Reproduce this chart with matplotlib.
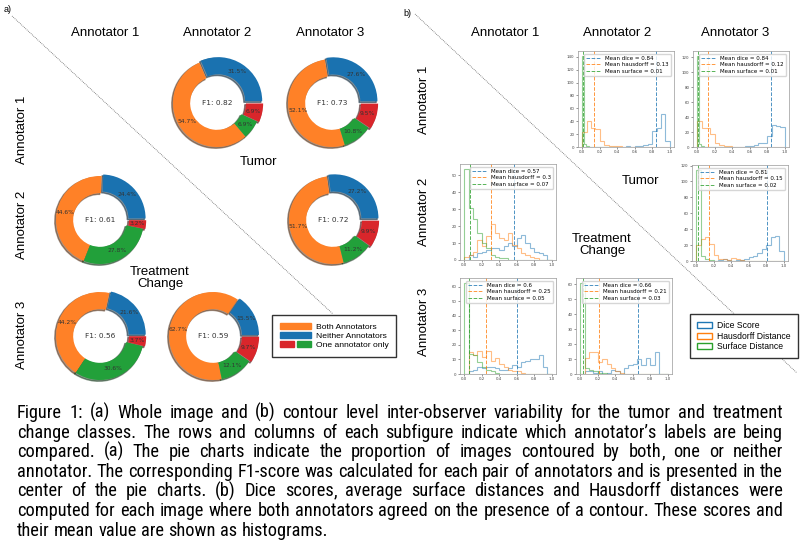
import matplotlib
matplotlib.use("Agg")
import matplotlib.pyplot as plt
import numpy as np
from matplotlib.patches import Patch
from matplotlib.lines import Line2D
from matplotlib.legend_handler import HandlerTuple
from matplotlib import font_manager
from matplotlib.ft2font import FT2Font

W, H = 800, 550

# ---------------- data ----------------
annotators = ["Annotator 1", "Annotator 2", "Annotator 3"]

# pie slices: neither, both, one (green), one (red)
pie_t12 = [31.5, 54.7, 6.9, 6.9]
pie_t13 = [27.6, 52.2, 10.8, 9.5]
pie_t23 = [27.2, 51.7, 11.2, 9.9]
pie_c12 = [24.4, 44.6, 27.8, 3.2]
pie_c13 = [21.6, 44.2, 30.6, 3.7]
pie_c23 = [15.5, 62.7, 12.1, 9.7]
f1_t12, f1_t13, f1_t23 = 0.82, 0.73, 0.72
f1_c12, f1_c13, f1_c23 = 0.61, 0.56, 0.59

# histogram counts (20 bins each); ranges per series
dice_range = (0.0, 1.0)
haus_range = (0.0, 1.0)

dice_t12 = [0, 0, 0, 0, 0, 0, 0, 0, 0, 0, 1, 0, 1, 2, 3, 5, 25, 30, 52, 10]
haus_t12 = [23, 40, 30, 28, 10, 3, 2, 1, 1, 0, 0, 0, 0, 0, 0, 0, 0, 0, 0, 0]
surf_t12 = [142, 4, 2, 1, 0, 0, 0, 0, 0, 0, 0, 0, 0, 0, 0, 0, 0, 0, 0, 0]
surf_range_t12 = (0.0, 0.4)
means_t12 = [0.84, 0.13, 0.01]

dice_t13 = [0, 0, 0, 0, 0, 0, 0, 0, 0, 0, 0, 1, 2, 3, 5, 5, 15, 30, 28, 27]
haus_t13 = [35, 26, 26, 18, 5, 3, 2, 1, 0, 0, 0, 0, 0, 0, 0, 0, 0, 0, 0, 0]
surf_t13 = [122, 4, 2, 1, 0, 0, 0, 0, 0, 0, 0, 0, 0, 0, 0, 0, 0, 0, 0, 0]
surf_range_t13 = (0.0, 0.4)
means_t13 = [0.84, 0.12, 0.01]

dice_t23 = [0, 0, 0, 0, 0, 1, 2, 1, 0, 1, 1, 2, 5, 6, 10, 15, 20, 30, 32, 12]
haus_t23 = [20, 28, 30, 22, 8, 3, 2, 1, 4, 3, 1, 0, 0, 0, 0, 0, 0, 0, 0, 0]
surf_t23 = [115, 6, 3, 1, 0, 0, 0, 0, 0, 0, 0, 0, 0, 0, 0, 0, 0, 0, 0, 0]
surf_range_t23 = (0.0, 1.0)
means_t23 = [0.81, 0.15, 0.02]

dice_c12 = [0, 3, 2, 4, 5, 6, 7, 7, 6, 8, 10, 8, 13, 15, 10, 7, 5, 4, 3, 0]
haus_c12 = [2, 3, 5, 12, 8, 14, 21, 16, 13, 12, 16, 9, 7, 4, 3, 2, 1, 0, 0, 0]
surf_c12 = [54, 31, 24, 16, 10, 7, 3, 2, 1, 1, 0, 0, 0, 0, 0, 0, 0, 0, 0, 0]
surf_range_c12 = (0.0, 1.0)
means_c12 = [0.57, 0.3, 0.07]

dice_c13 = [0, 2, 3, 5, 4, 5, 5, 4, 3, 3, 4, 6, 5, 8, 9, 10, 10, 13, 5, 0]
haus_c13 = [0, 15, 13, 16, 12, 16, 9, 11, 7, 5, 3, 2, 2, 1, 0, 0, 0, 0, 0, 0]
surf_c13 = [63, 14, 13, 8, 5, 3, 2, 1, 0, 0, 0, 0, 0, 0, 0, 0, 0, 0, 0, 0]
surf_range_c13 = (0.0, 1.0)
means_c13 = [0.6, 0.25, 0.05]

dice_c23 = [0, 2, 2, 1, 2, 0, 1, 3, 2, 0, 4, 6, 7, 10, 6, 11, 6, 15, 0, 0]
haus_c23 = [0, 11, 15, 15, 8, 10, 7, 4, 2, 1, 0, 0, 0, 0, 0, 0, 0, 0, 0, 0]
surf_c23 = [61, 4, 3, 2, 1, 1, 0, 0, 0, 0, 0, 0, 0, 0, 0, 0, 0, 0, 0, 0]
surf_range_c23 = (0.0, 1.0)
means_c23 = [0.66, 0.21, 0.03]

caption_lines = [
    "Figure 1: (a) Whole image and (b) contour level inter-observer variability for the tumor and treatment",
    "change classes. The rows and columns of each subfigure indicate which annotator\u2019s labels are being",
    "compared. (a) The pie charts indicate the proportion of images contoured by both, one or neither",
    "annotator. The corresponding F1-score was calculated for each pair of annotators and is presented in the",
    "center of the pie charts. (b) Dice scores, average surface distances and Hausdorff distances were",
    "computed for each image where both annotators agreed on the presence of a contour. These scores and",
    "their mean value are shown as histograms.",
]

# ---------------- style ----------------
c_blue, c_orange, c_green, c_red = "#1a72b0", "#ff8127", "#22a03a", "#d9262b"
h_blue, h_orange, h_green = "#1f77b4", "#ff7f0e", "#2ca02c"
head_font = "Liberation Sans"


def covers(path, chars):
    try:
        f = FT2Font(path)
        return all(f.get_char_index(ord(c)) != 0 for c in chars)
    except Exception:
        return False


def find_narrow_family():
    # a condensed sans family for the caption that has every glyph we need
    chars = set("".join(caption_lines)) - {" "}
    fonts = [f for f in font_manager.fontManager.ttflist
             if f.style == "normal" and f.weight in (400, "normal", "regular")]
    for p in ["Liberation Sans Narrow", "Arial Narrow", "Roboto Condensed",
              "DejaVu Sans Condensed", "Open Sans Condensed"]:
        for f in fonts:
            if f.name == p and covers(f.fname, chars):
                return p
    return head_font


cap_font = find_narrow_family()


def box(x0, y0, w, h):
    return [x0 / W, 1 - (y0 + h) / H, w / W, h / H]


def pt(x, y):
    return x / W, 1 - y / H


fig = plt.figure(figsize=(8, 5.5), dpi=100)


def donut(cx, cy, vals, f1, r=44):
    size = 2.4 * r
    ax = fig.add_axes(box(cx - size / 2, cy - size / 2, size, size))
    ax.pie(vals, colors=[c_blue, c_orange, c_green, c_red], explode=[0.05, 0, 0, 0.05],
           startangle=0, shadow=True, autopct="%1.1f%%", pctdistance=0.8,
           wedgeprops=dict(width=0.39), textprops=dict(fontsize=4.3, color="#333333"))
    ax.text(0, 0, "F1: %.2f" % f1, ha="center", va="center", fontsize=5.3, color="#333333")
    ax.set_xlim(-1.2, 1.2)
    ax.set_ylim(-1.2, 1.2)
    ax.set_aspect("equal")
    ax.axis("off")


# panel a
donut(217, 103, pie_t12, f1_t12)
donut(332, 103, pie_t13, f1_t13)
donut(333, 220, pie_t23, f1_t23)
donut(100, 220, pie_c12, f1_c12)
donut(100, 336, pie_c13, f1_c13)
donut(213, 336, pie_c23, f1_c23)


def hist(x0, y0, dice, haus, surf, surf_range, means):
    ax = fig.add_axes(box(x0, y0, 96, 96))
    series = [(dice, dice_range, h_blue), (haus, haus_range, h_orange), (surf, surf_range, h_green)]
    for counts, rng, col in series:
        edges = np.linspace(rng[0], rng[1], len(counts) + 1)
        ax.stairs(counts, edges, color=col, alpha=0.5, lw=0.8, baseline=0)
    labels = ["Mean dice = %g", "Mean hausdorff = %g", "Mean surface = %g"]
    for m, lab, col in zip(means, labels, [h_blue, h_orange, h_green]):
        ax.axvline(m, color=col, ls="--", lw=0.7, alpha=0.8, label=lab % m)
    ax.set_xlim(-0.05, 1.05)
    ax.set_xticks([0, 0.2, 0.4, 0.6, 0.8, 1.0])
    ax.tick_params(labelsize=2.8, length=1.5, width=0.4, pad=1, colors="#444444")
    for s in ax.spines.values():
        s.set_linewidth(0.5)
        s.set_color("#999999")
    ax.legend(loc="upper right", fontsize=4, handlelength=2.6, borderpad=0.4,
              labelspacing=0.25, framealpha=0.8, edgecolor="#cccccc")


hist(578, 51, dice_t12, haus_t12, surf_t12, surf_range_t12, means_t12)
hist(693, 51, dice_t13, haus_t13, surf_t13, surf_range_t13, means_t13)
hist(692, 165, dice_t23, haus_t23, surf_t23, surf_range_t23, means_t23)
hist(460, 164, dice_c12, haus_c12, surf_c12, surf_range_c12, means_c12)
hist(460, 278, dice_c13, haus_c13, surf_c13, surf_range_c13, means_c13)
hist(576, 278, dice_c23, haus_c23, surf_c23, surf_range_c23, means_c23)

# headers
hs = 9.5
for xc, name in zip([105, 217, 330], annotators):
    fig.text(*pt(xc, 33), name, ha="center", va="center", fontsize=hs, family=head_font)
for yc, name in zip([130, 225, 335], annotators):
    fig.text(*pt(22, yc), name, ha="center", va="center", rotation=90, fontsize=hs, family=head_font)
for xc, name in zip([505, 617, 735], annotators):
    fig.text(*pt(xc, 33), name, ha="center", va="center", fontsize=hs, family=head_font)
for yc, name in zip([100, 212, 322], annotators):
    fig.text(*pt(424, yc), name, ha="center", va="center", rotation=90, fontsize=hs, family=head_font)

fig.text(*pt(258, 162), "Tumor", ha="center", va="center", fontsize=hs, family=head_font)
fig.text(*pt(160, 278), "Treatment\nChange", ha="center", va="center", fontsize=hs,
         family=head_font, linespacing=1.1)
fig.text(*pt(640, 181), "Tumor", ha="center", va="center", fontsize=hs, family=head_font)
fig.text(*pt(602, 245), "Treatment\nChange", ha="center", va="center", fontsize=hs,
         family=head_font, linespacing=1.1)
fig.text(*pt(4, 10), "a)", ha="left", va="center", fontsize=6.5, family=head_font)
fig.text(*pt(403, 13), "b)", ha="left", va="center", fontsize=6.5, family=head_font)

# diagonals
for (xa, ya), (xb, yb) in [((12, 16), (333, 314)), ((415, 14), (797, 373))]:
    fig.add_artist(Line2D([xa / W, xb / W], [1 - ya / H, 1 - yb / H], transform=fig.transFigure,
                          ls=(0, (1, 1.2)), lw=0.6, color="#666666", zorder=1))

# legends
leg_a = fig.legend(
    [Patch(color=c_orange), Patch(color=c_blue), (Patch(color=c_red), Patch(color=c_green))],
    ["Both Annotators", "Neither Annotators", "One annotator only"],
    handler_map={tuple: HandlerTuple(ndivide=None, pad=0.3)},
    loc="upper left", bbox_to_anchor=pt(272, 315), borderaxespad=0, handlelength=3.7,
    handleheight=0.75, labelspacing=0.15, borderpad=0.9, handletextpad=0.6, fancybox=False,
    edgecolor="#333333", framealpha=1, prop=dict(family=head_font, size=6.1))
leg_a.get_frame().set_linewidth(1.0)
leg_a.set_zorder(5)

leg_b = fig.legend(
    [Patch(facecolor="none", edgecolor=h_blue), Patch(facecolor="none", edgecolor=h_orange),
     Patch(facecolor="none", edgecolor=h_green)],
    ["Dice Score", "Hausdorff Distance", "Surface Distance"],
    loc="upper left", bbox_to_anchor=pt(690, 314), borderaxespad=0, handlelength=1.7,
    handleheight=0.7, labelspacing=0.15, borderpad=0.85, handletextpad=0.6, fancybox=False,
    edgecolor="#333333", framealpha=1, prop=dict(family=head_font, size=6.2))
leg_b.get_frame().set_linewidth(1.0)
leg_b.set_zorder(5)

# caption, justified word by word on a shared baseline
fig.canvas.draw()
rend = fig.canvas.get_renderer()
x_left, x_right = 17, 783
probe = [fig.text(0, 0, ln, fontsize=10, family=cap_font) for ln in caption_lines[:-1]]
natural = max(t.get_window_extent(rend).width for t in probe)
for t in probe:
    t.remove()
cap_size = round(10 * (x_right - x_left) * 0.985 / natural, 1)


def word_parts(word):
    # trailing commas go in their own text piece
    if word.endswith(",") and len(word) > 1:
        return [word[:-1], ","]
    return [word]


for i, line in enumerate(caption_lines):
    y = 418 + i * 19.6
    words = line.split(" ")
    groups = []
    for w in words:
        parts = [fig.text(0, 1 - y / H, p, fontsize=cap_size, family=cap_font, va="baseline")
                 for p in word_parts(w)]
        groups.append((parts, [p.get_window_extent(rend).width for p in parts]))
    widths = [sum(ws) for _, ws in groups]
    if i == len(caption_lines) - 1:
        sp = fig.text(0, 0, "a a", fontsize=cap_size, family=cap_font)
        sp2 = fig.text(0, 0, "aa", fontsize=cap_size, family=cap_font)
        gap = sp.get_window_extent(rend).width - sp2.get_window_extent(rend).width
        sp.remove()
        sp2.remove()
    else:
        gap = (x_right - x_left - sum(widths)) / (len(words) - 1)
    x = x_left
    for parts, ws in groups:
        for p, w in zip(parts, ws):
            p.set_x(x / W)
            x += w
        x += gap

fig.savefig("out.png", dpi=100)
